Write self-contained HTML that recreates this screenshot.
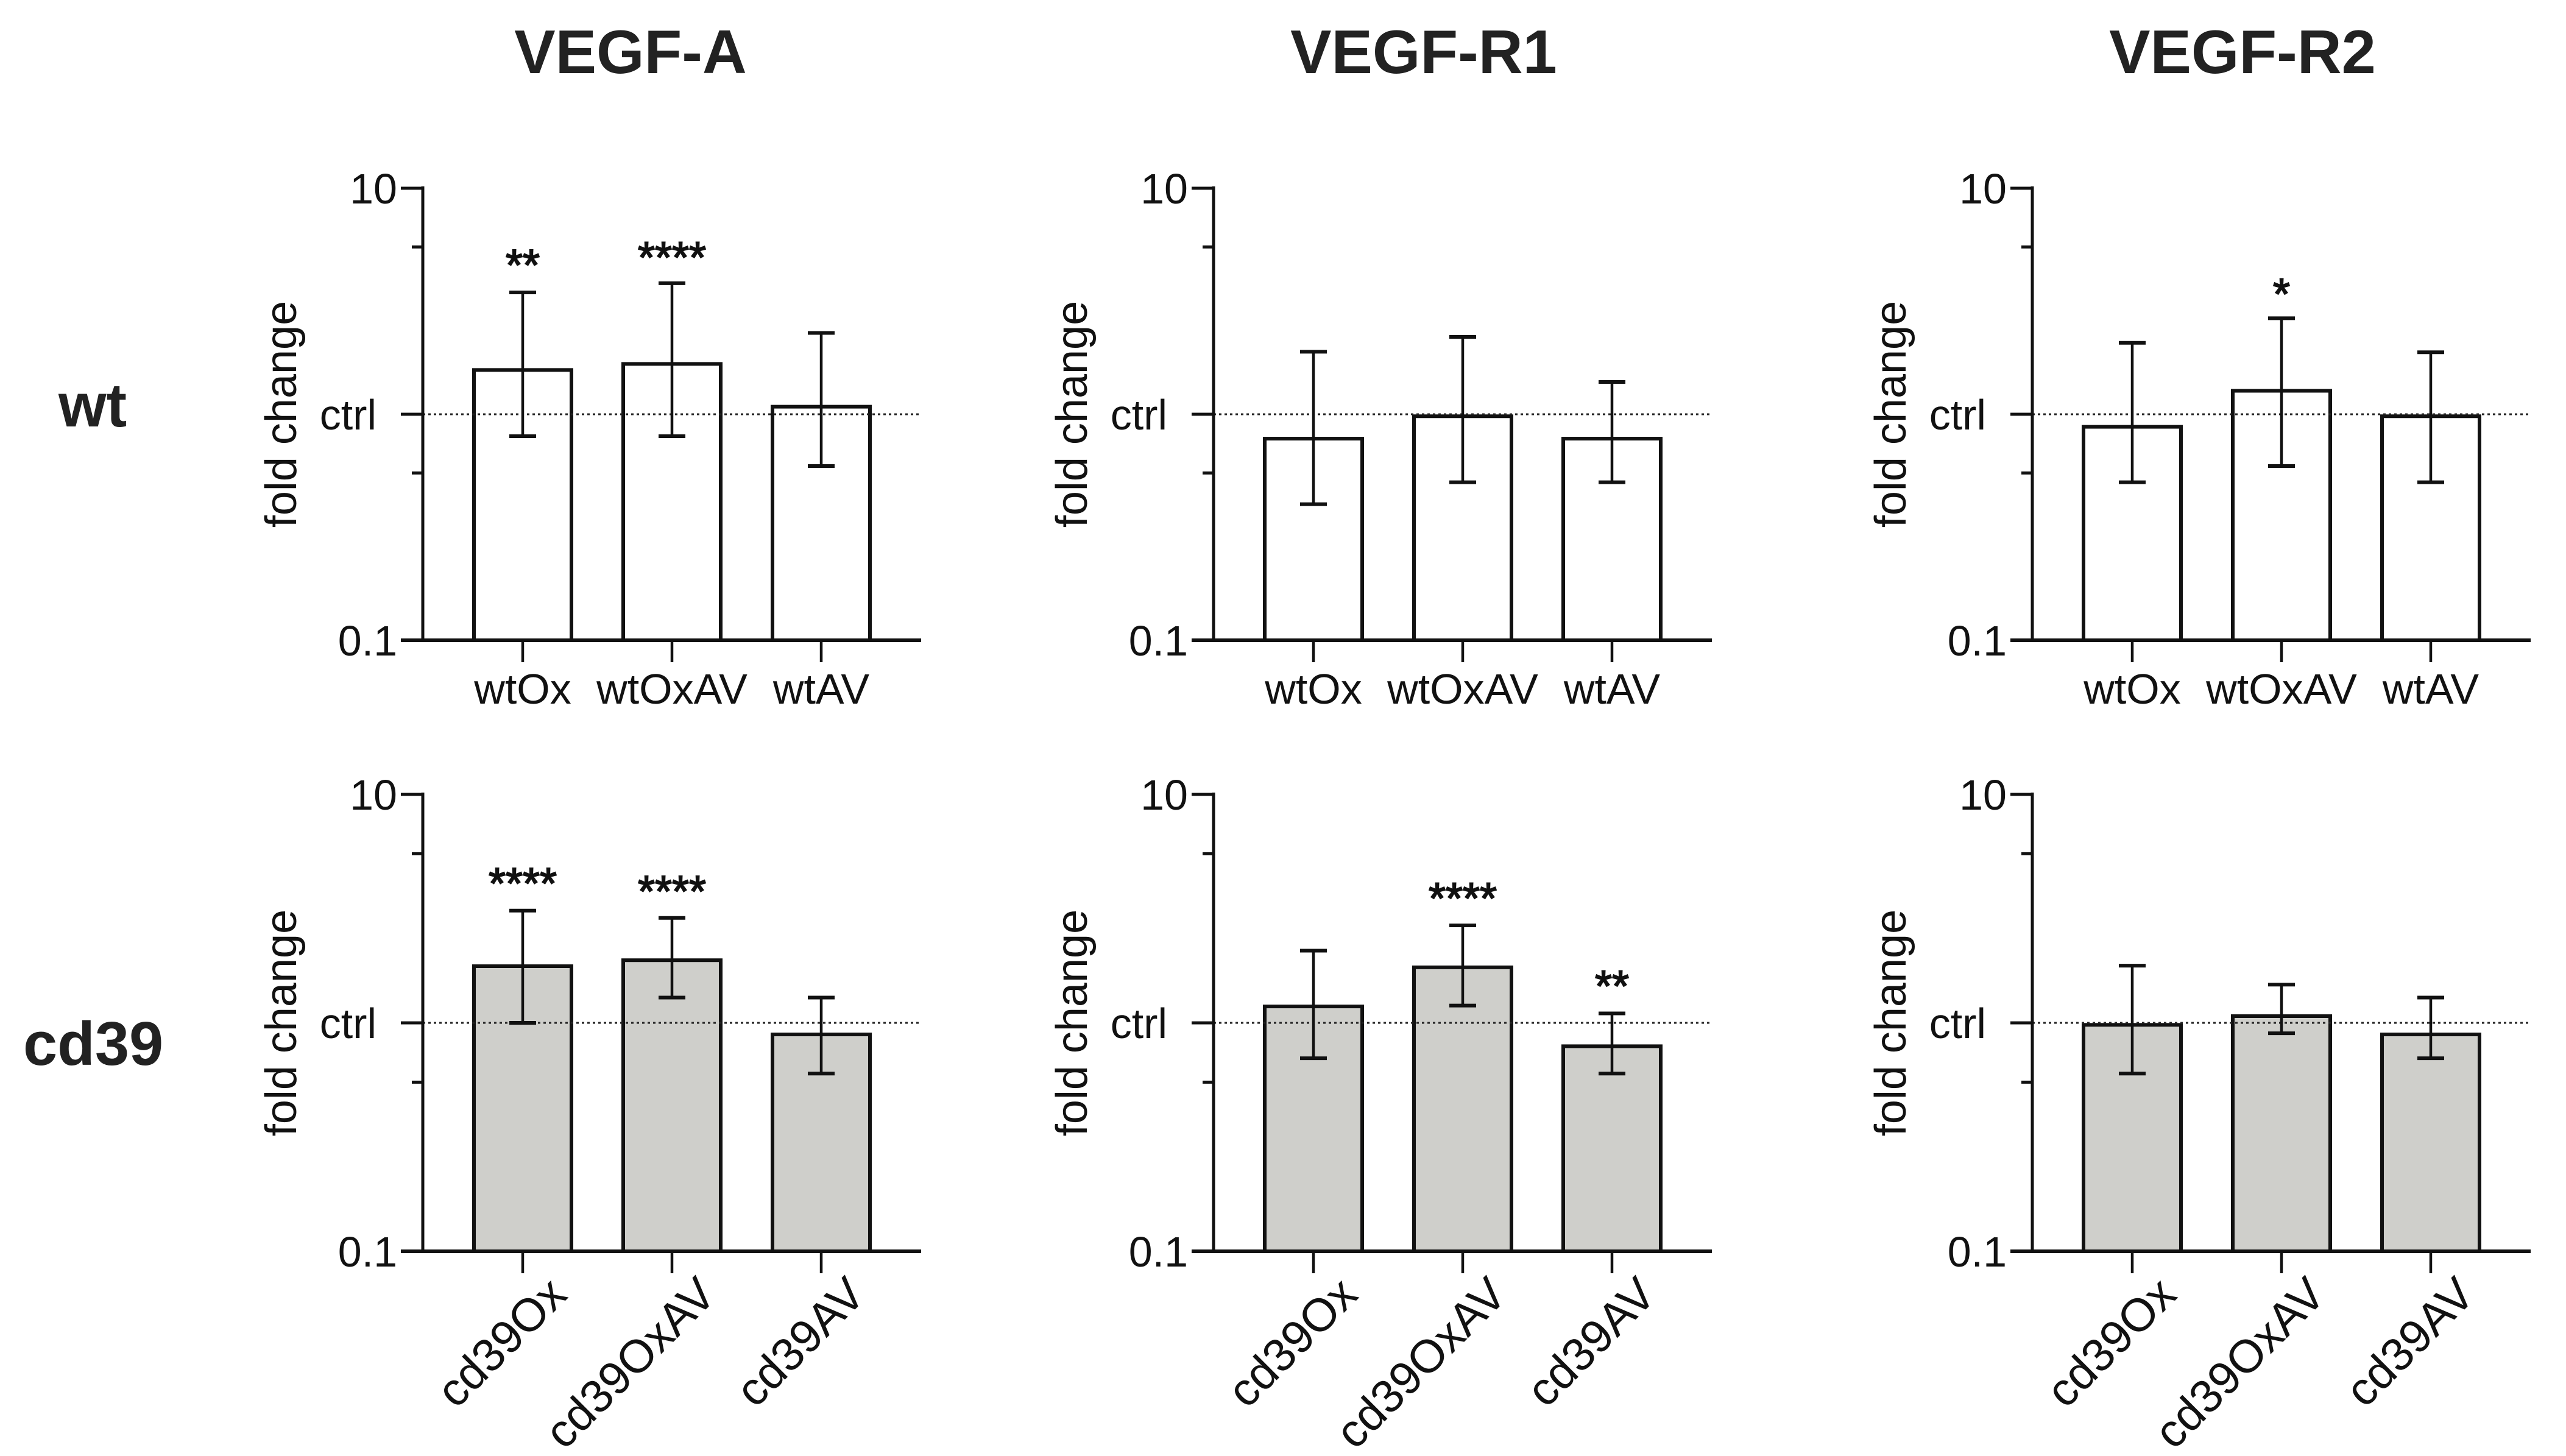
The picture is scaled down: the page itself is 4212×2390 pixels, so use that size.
<!DOCTYPE html>
<html><head><meta charset="utf-8"><style>
html,body{margin:0;padding:0;background:#fff;}
svg{display:block;font-family:"Liberation Sans",Arial,sans-serif;}
</style></head><body>
<svg id="fig" width="4212" height="2390" viewBox="0 0 4212 2390" xmlns="http://www.w3.org/2000/svg">
<text x="1035" y="120" font-size="101" font-weight="bold" text-anchor="middle" fill="#222">VEGF-A</text>
<text x="2337" y="120" font-size="101" font-weight="bold" text-anchor="middle" fill="#222">VEGF-R1</text>
<text x="3681" y="120" font-size="101" font-weight="bold" text-anchor="middle" fill="#222">VEGF-R2</text>
<text x="96" y="700" font-size="101" font-weight="bold" fill="#222">wt</text>
<text x="38" y="1748" font-size="101" font-weight="bold" fill="#222">cd39</text>
</svg>
<script>
// ---- data ----
const wtCategories = ["wtOx","wtOxAV","wtAV"];
const cdCategories = ["cd39Ox","cd39OxAV","cd39AV"];
const yTickLabels = ["10","ctrl","0.1"];
const yTickValues = [10,1,0.1];
const wtVegfA = [1.57,1.67,1.08];
const wtVegfAHi = [3.46,3.8,2.29];
const wtVegfALo = [0.8,0.8,0.59];
const wtVegfR1 = [0.78,0.98,0.78];
const wtVegfR1Hi = [1.89,2.2,1.39];
const wtVegfR1Lo = [0.40,0.50,0.50];
const wtVegfR2 = [0.88,1.27,0.98];
const wtVegfR2Hi = [2.07,2.66,1.88];
const wtVegfR2Lo = [0.50,0.59,0.50];
const cdVegfA = [1.77,1.88,0.89];
const cdVegfAHi = [3.1,2.88,1.29];
const cdVegfALo = [1.0,1.29,0.6];
const cdVegfR1 = [1.18,1.75,0.79];
const cdVegfR1Hi = [2.07,2.67,1.10];
const cdVegfR1Lo = [0.70,1.19,0.60];
const cdVegfR2 = [0.98,1.07,0.89];
const cdVegfR2Hi = [1.78,1.47,1.29];
const cdVegfR2Lo = [0.60,0.90,0.70];
const wtVegfAStars = ["**","****",""];
const wtVegfAStarY = [5.08,5.5,0];
const wtVegfR1Stars = ["","",""];
const wtVegfR1StarY = [0,0,0];
const wtVegfR2Stars = ["","*",""];
const wtVegfR2StarY = [0,3.79,0];
const cdVegfAStars = ["****","****",""];
const cdVegfAStarY = [4.53,4.18,0];
const cdVegfR1Stars = ["","****","**"];
const cdVegfR1StarY = [0,3.9,1.61];
const cdVegfR2Stars = ["","",""];
const cdVegfR2StarY = [0,0,0];

const svg = document.getElementById('fig');
const NS = "http://www.w3.org/2000/svg";
function mk(tag, attrs, parent){
  const e = document.createElementNS(NS, tag);
  for (const k in attrs) e.setAttribute(k, attrs[k]);
  (parent||svg).appendChild(e);
  return e;
}
const axisXs = [694,1992,3336];
const rows = [{top:309,bot:1051,cats:wtCategories,rot:false,fill:"#ffffff",name:"wt"},
              {top:1304,bot:2054,cats:cdCategories,rot:true,fill:"#cfcfcb",name:"cd39"}];
const panelData = [
  [[wtVegfA,wtVegfAHi,wtVegfALo,wtVegfAStars,wtVegfAStarY],[wtVegfR1,wtVegfR1Hi,wtVegfR1Lo,wtVegfR1Stars,wtVegfR1StarY],[wtVegfR2,wtVegfR2Hi,wtVegfR2Lo,wtVegfR2Stars,wtVegfR2StarY]],
  [[cdVegfA,cdVegfAHi,cdVegfALo,cdVegfAStars,cdVegfAStarY],[cdVegfR1,cdVegfR1Hi,cdVegfR1Lo,cdVegfR1Stars,cdVegfR1StarY],[cdVegfR2,cdVegfR2Hi,cdVegfR2Lo,cdVegfR2Stars,cdVegfR2StarY]]
];
const genes = ["vegf-a","vegf-r1","vegf-r2"];
rows.forEach((row, ri) => {
  axisXs.forEach((ax, ci) => {
    const g = mk('g', {});
    
    
    const yScale = v => row.bot - (Math.log10(v) + 1) / 2 * (row.bot - row.top);
    const xEnd = ax + 818;
    const xCenter = i => ax + 164 + i * 245;
    const [vals, hi, lo, stars, starY] = panelData[ri][ci];
    vals.forEach((v, i) => {
      const b = mk('rect', {x: xCenter(i) - 80, y: yScale(v), width: 160, height: row.bot - yScale(v), fill: row.fill, stroke: "#111", "stroke-width": 6}, g);
      
      
    });
    const dl = mk('line', {x1: ax, x2: xEnd, y1: yScale(1), y2: yScale(1), stroke: "#222", "stroke-width": 3, "stroke-dasharray": "4 5"}, g);
    
    
    vals.forEach((v, i) => {
      const eg = mk('g', {stroke: "#111", "stroke-width": 4.5}, g);
      
      
      const cx = xCenter(i);
      mk('line', {x1: cx, x2: cx, y1: yScale(hi[i]), y2: yScale(lo[i])}, eg);
      mk('line', {x1: cx - 22, x2: cx + 22, y1: yScale(hi[i]), y2: yScale(hi[i]), "stroke-width": 6}, eg);
      mk('line', {x1: cx - 22, x2: cx + 22, y1: yScale(lo[i]), y2: yScale(lo[i]), "stroke-width": 6}, eg);
      if (stars[i]) {
        const s = mk('text', {x: cx, y: yScale(starY[i]) + 42, "font-size": 72, "text-anchor": "middle", fill: "#111", stroke: "#111", "stroke-width": 2}, g);
        s.textContent = stars[i];
        
        
      }
    });
    const ya = mk('line', {x1: ax, x2: ax, y1: row.top - 3, y2: row.bot, stroke: "#111", "stroke-width": 5}, g);
    
    
    const xa = mk('line', {x1: ax - 36, x2: xEnd, y1: row.bot, y2: row.bot, stroke: "#111", "stroke-width": 6}, g);
    
    
    yTickValues.forEach((tv, k) => {
      const y = yScale(tv);
      mk('line', {x1: ax - 36, x2: ax, y1: y, y2: y, stroke: "#111", "stroke-width": 5}, g);
      const t = mk('text', {x: tv === 1 ? ax - 76 : ax - 42, y: y + 25, "font-size": 70, "text-anchor": "end", fill: "#111"}, g);
      t.textContent = yTickLabels[k];
      
      
    });
    [5.5, 0.55].forEach(mv => {
      mk('line', {x1: ax - 18, x2: ax, y1: yScale(mv), y2: yScale(mv), stroke: "#111", "stroke-width": 5}, g);
    });
    const yt = mk('text', {x: 0, y: 0, "font-size": 72, "text-anchor": "middle", fill: "#111", transform: `translate(${ax - 208},${yScale(1)}) rotate(-90)`}, g);
    yt.textContent = "fold change";
    
    
    row.cats.forEach((c, i) => {
      const cx = xCenter(i);
      mk('line', {x1: cx, x2: cx, y1: row.bot, y2: row.bot + 36, stroke: "#111", "stroke-width": 4.5}, g);
      let t;
      if (!row.rot) {
        t = mk('text', {x: cx, y: row.bot + 104, "font-size": 70, "text-anchor": "middle", fill: "#111"}, g);
      } else {
        t = mk('text', {x: 0, y: 0, "font-size": 76, "text-anchor": "end", fill: "#111", transform: `translate(${cx + 76},${row.bot + 75}) rotate(-45)`}, g);
      }
      t.textContent = c;
      
      
    });
  });
});
</script>
</body></html>
